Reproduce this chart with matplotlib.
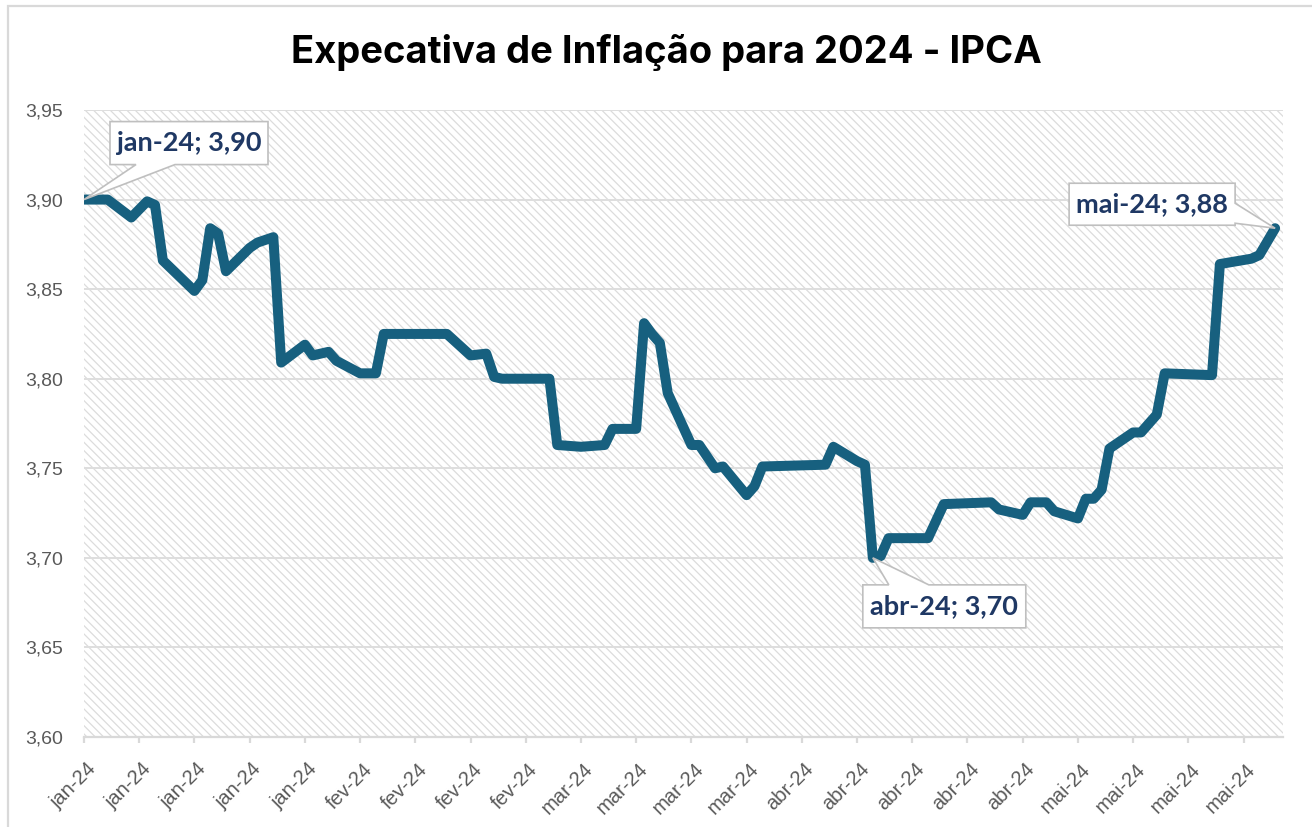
import numpy as np
import pandas as pd
import matplotlib
matplotlib.use('Agg')
import matplotlib.pyplot as plt
import matplotlib.dates as mdates
from matplotlib.patches import Rectangle, Polygon
from matplotlib.ticker import FuncFormatter
from matplotlib.transforms import IdentityTransform, ScaledTranslation

# Expectativa Focus para o IPCA 2024
datas = ['2024-01-01', '2024-01-04', '2024-01-07', '2024-01-09', '2024-01-10', '2024-01-11',
         '2024-01-15', '2024-01-16', '2024-01-17', '2024-01-18', '2024-01-19', '2024-01-22',
         '2024-01-23', '2024-01-25', '2024-01-26', '2024-01-29', '2024-01-30', '2024-02-01',
         '2024-02-02', '2024-02-05', '2024-02-07', '2024-02-08', '2024-02-16', '2024-02-19',
         '2024-02-21', '2024-02-22', '2024-02-23', '2024-02-29', '2024-03-01', '2024-03-04',
         '2024-03-07', '2024-03-08', '2024-03-11', '2024-03-12', '2024-03-13', '2024-03-14',
         '2024-03-15', '2024-03-18', '2024-03-19', '2024-03-21', '2024-03-22', '2024-03-25',
         '2024-03-26', '2024-03-27', '2024-04-04', '2024-04-05', '2024-04-08', '2024-04-09',
         '2024-04-10', '2024-04-11', '2024-04-12', '2024-04-17', '2024-04-19', '2024-04-25',
         '2024-04-26', '2024-04-29', '2024-04-30', '2024-05-02', '2024-05-03', '2024-05-06',
         '2024-05-07', '2024-05-08', '2024-05-09', '2024-05-10', '2024-05-13', '2024-05-14',
         '2024-05-16', '2024-05-17', '2024-05-23', '2024-05-24', '2024-05-28', '2024-05-29',
         '2024-05-31']
ipca = [3.900, 3.900, 3.890, 3.899, 3.897, 3.866,
        3.849, 3.855, 3.884, 3.881, 3.860, 3.873,
        3.876, 3.879, 3.809, 3.819, 3.813, 3.815,
        3.810, 3.803, 3.803, 3.825, 3.825, 3.813,
        3.814, 3.801, 3.800, 3.800, 3.763, 3.762,
        3.763, 3.772, 3.772, 3.831, 3.825, 3.820,
        3.792, 3.763, 3.763, 3.750, 3.751, 3.735,
        3.740, 3.751, 3.752, 3.762, 3.754, 3.752,
        3.700, 3.701, 3.711, 3.711, 3.730, 3.731,
        3.727, 3.724, 3.731, 3.731, 3.726, 3.722,
        3.733, 3.733, 3.738, 3.761, 3.770, 3.770,
        3.780, 3.803, 3.802, 3.864, 3.867, 3.869,
        3.884]
meses = {1: 'jan', 2: 'fev', 3: 'mar', 4: 'abr', 5: 'mai', 6: 'jun'}
yticks = [3.60, 3.65, 3.70, 3.75, 3.80, 3.85, 3.90, 3.95]

x = mdates.date2num(pd.to_datetime(datas))
ipca = np.array(ipca)

plt.rcParams['hatch.linewidth'] = 0.9

fig = plt.figure(figsize=(13.12, 8.27), dpi=100)
W, H = 1312, 827
ax = fig.add_axes([84 / W, 1 - 737 / H, (1283 - 84) / W, (737 - 110) / H])

# fundo hachurado
ax.add_patch(Rectangle((0, 0), 1, 1, transform=ax.transAxes, facecolor='white',
                       edgecolor='#dcdcdc', hatch='\\\\\\\\', lw=0, zorder=0))

ax.plot(x, ipca, color='#17607f', lw=7.2, solid_joinstyle='round',
        solid_capstyle='round', zorder=3)

ax.set_xlim(x[0], x[-1] + 1)
ax.set_ylim(3.60, 3.95)
ax.set_yticks(yticks)
ax.set_yticklabels([f'{v:.2f}'.replace('.', ',') for v in yticks])
ax.yaxis.grid(True, color='#dedede', lw=1.4)
ax.set_axisbelow(True)

ax.xaxis.set_major_locator(mdates.WeekdayLocator(byweekday=mdates.MO))


def fmt_mes(v, pos=None):
    d = mdates.num2date(v)
    return f'{meses[d.month]}-{d.year % 100}'


ax.xaxis.set_major_formatter(FuncFormatter(fmt_mes))

for s in ['top', 'right', 'left']:
    ax.spines[s].set_visible(False)
ax.spines['bottom'].set_color('#d9d9d9')
ax.spines['bottom'].set_linewidth(1.6)

ax.tick_params(axis='y', length=0, pad=15, labelsize=14, labelcolor='#595959')
ax.tick_params(axis='x', length=4, width=1.6, color='#d9d9d9', labelsize=14.5,
               labelcolor='#595959', pad=17)
for lab in ax.get_yticklabels() + ax.get_xticklabels():
    lab.set_fontfamily('Liberation Sans')
desloc = ScaledTranslation(0.09, 0, fig.dpi_scale_trans)
for lab in ax.get_xticklabels():
    lab.set_rotation(45)
    lab.set_rotation_mode('anchor')
    lab.set_ha('right')
    lab.set_va('center')
    lab.set_transform(lab.get_transform() + desloc)

fig.text(0.508, 0.937, 'Expecativa de Inflação para 2024 - IPCA', ha='center', va='center',
         fontsize=27.5, fontweight='bold', family='Inter', color='black')

# moldura do grafico
fig.add_artist(Rectangle((8 / W, -0.1), 1.2, 1.1 - 6 / H, transform=fig.transFigure,
                         fill=False, edgecolor='#d9d9d9', lw=1.6))


def callout(i, box, lado, base):
    px, py = ax.transData.transform((x[i], ipca[i]))
    l, r, b, t = box
    x0, x1, y0, y1 = px + l, px + r, py + b, py + t
    if lado == 'baixo':
        verts = [(x0, y0), (x0, y1), (x1, y1), (x1, y0), (px + base[1], y0), (px, py),
                 (px + base[0], y0)]
    elif lado == 'cima':
        verts = [(x0, y0), (x0, y1), (px + base[0], y1), (px, py), (px + base[1], y1),
                 (x1, y1), (x1, y0)]
    else:
        verts = [(x0, y0), (x0, y1), (x1, y1), (x1, py + base[1]), (px, py),
                 (x1, py + base[0]), (x1, y0)]
    fig.add_artist(Polygon(verts, closed=True, transform=IdentityTransform(),
                           facecolor='white', edgecolor='#bfbfbf', lw=1.2, zorder=5))
    texto = f'{fmt_mes(x[i])}; ' + f'{ipca[i]:.2f}'.replace('.', ',')
    fig.text((x0 + x1) / 2, (y0 + y1) / 2, texto, transform=IdentityTransform(),
             ha='center', va='center', fontsize=19.5, fontweight='bold', family='Lato',
             color='#1f3864', zorder=6)


i_min = int(np.argmin(ipca))
callout(0, (26, 184, 35, 78), 'baixo', (52, 91))
callout(i_min, (-10, 153, -70, -27), 'cima', (16, 56))
callout(len(ipca) - 1, (-206, -40, 3, 45), 'direita', (5, 25))

fig.savefig('out.png', dpi=100)
